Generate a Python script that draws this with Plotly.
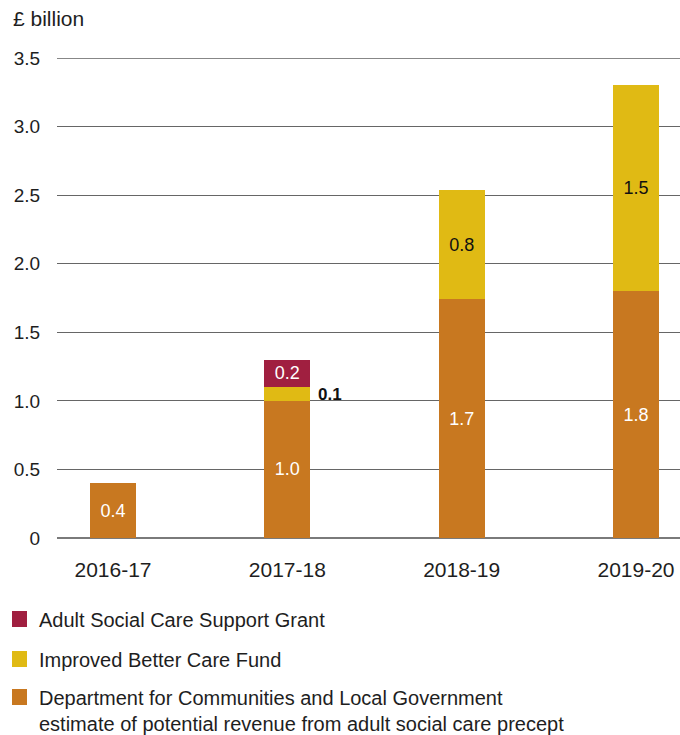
import plotly.graph_objects as go

# Financial years and funding streams (£ billion)
years = ["2016-17", "2017-18", "2018-19", "2019-20"]
precept = [0.40, 1.00, 1.74, 1.80]
better_care = [None, 0.10, 0.80, 1.50]
support_grant = [None, 0.20, None, None]

names = [
    "Department for Communities and Local Government<br>estimate of potential revenue from adult social care precept",
    "Improved Better Care Fund",
    "Adult Social Care Support Grant",
]
colors = ["#C87820", "#E0BA14", "#A01F40"]
label_colors = ["white", "#111111", "white"]

y_ticks = [0, 0.5, 1, 1.5, 2, 2.5, 3, 3.5]
y_tick_text = ["0", "0.5", "1.0", "1.5", "2.0", "2.5", "3.0", "3.5"]

x = list(range(len(years)))
FONT = "Liberation Sans, Arial, Helvetica, sans-serif"
TXT = "#1e1e1e"

# page and plot-area geometry in pixels
W, H = 680, 735
L, R, T, B = 57, 0, 58, 197
pw, ph = W - L - R, H - T - B


def px(xp):
    return (xp - L) / pw


def py(yp):
    return (H - B - yp) / ph


def fmt(values):
    return [f"{v:.1f}" if v is not None else "" for v in values]


fig = go.Figure()
series = [precept, better_care, support_grant]
for i, (vals, name) in enumerate(zip(series, names)):
    text = fmt(vals)
    if i == 1:
        text[1] = ""  # thin segment is labelled beside the bar
    fig.add_trace(go.Bar(
        x=x, y=vals, name=name, width=0.264,
        marker=dict(color=colors[i], line=dict(width=0)),
        text=text, textposition="inside", insidetextanchor="middle",
        textangle=0,
        textfont=dict(family=FONT, size=18, color=label_colors[i]),
        hoverinfo="skip", showlegend=False,
        cliponaxis=False,
    ))

# label for the thin Better Care Fund segment in 2017-18
fig.add_annotation(
    x=1, y=precept[1] + better_care[1] / 2, text=f"<b>{better_care[1]:.1f}</b>",
    xref="x", yref="y", xanchor="left", yanchor="middle", xshift=29,
    showarrow=False, font=dict(family=FONT, size=17, color="#111111"),
)

# unit caption
fig.add_annotation(
    x=px(11), y=py(18), xref="paper", yref="paper",
    text="£ billion", showarrow=False, xanchor="left", yanchor="middle",
    font=dict(family=FONT, size=21, color=TXT),
)

# top rule of the chart area
fig.add_shape(type="line", xref="paper", yref="y", x0=0, x1=1, y0=3.5, y1=3.5,
              line=dict(color="#111111", width=1.2), layer="below")

# legend: swatch + label, top to bottom
legend_rows = [(2, 619), (1, 659), (0, 697)]
for idx, yc in legend_rows:
    fig.add_shape(type="rect", xref="paper", yref="paper",
                  x0=px(12), x1=px(27), y0=py(yc - 8), y1=py(yc + 8),
                  fillcolor=colors[idx], line=dict(width=0))
    fig.add_annotation(
        x=px(37), y=py(yc - 12), xref="paper", yref="paper",
        text=names[idx], showarrow=False, xanchor="left", yanchor="top",
        align="left", font=dict(family=FONT, size=20, color=TXT),
    )

fig.update_layout(
    width=W, height=H,
    barmode="stack",
    plot_bgcolor="white", paper_bgcolor="white",
    margin=dict(l=L, r=R, t=T, b=B, pad=0, autoexpand=False),
    font=dict(family=FONT, size=18, color=TXT),
    showlegend=False,
    xaxis=dict(
        range=[-0.3212, 3.2524], tickvals=x, ticktext=years,
        showgrid=False, zeroline=False, showline=False,
        ticks="outside", ticklen=13, tickcolor="rgba(0,0,0,0)",
        tickangle=0,
        tickfont=dict(family=FONT, size=21, color=TXT),
    ),
    yaxis=dict(
        range=[0, 3.5], tickvals=y_ticks, ticktext=y_tick_text,
        showgrid=True, gridcolor="#666666", gridwidth=1.3,
        zeroline=True, zerolinecolor="#7a7a7a", zerolinewidth=2,
        showline=False,
        ticks="outside", ticklen=12, tickcolor="rgba(0,0,0,0)",
        tickfont=dict(family=FONT, size=19, color=TXT),
    ),
)

fig.write_html("out.html")
